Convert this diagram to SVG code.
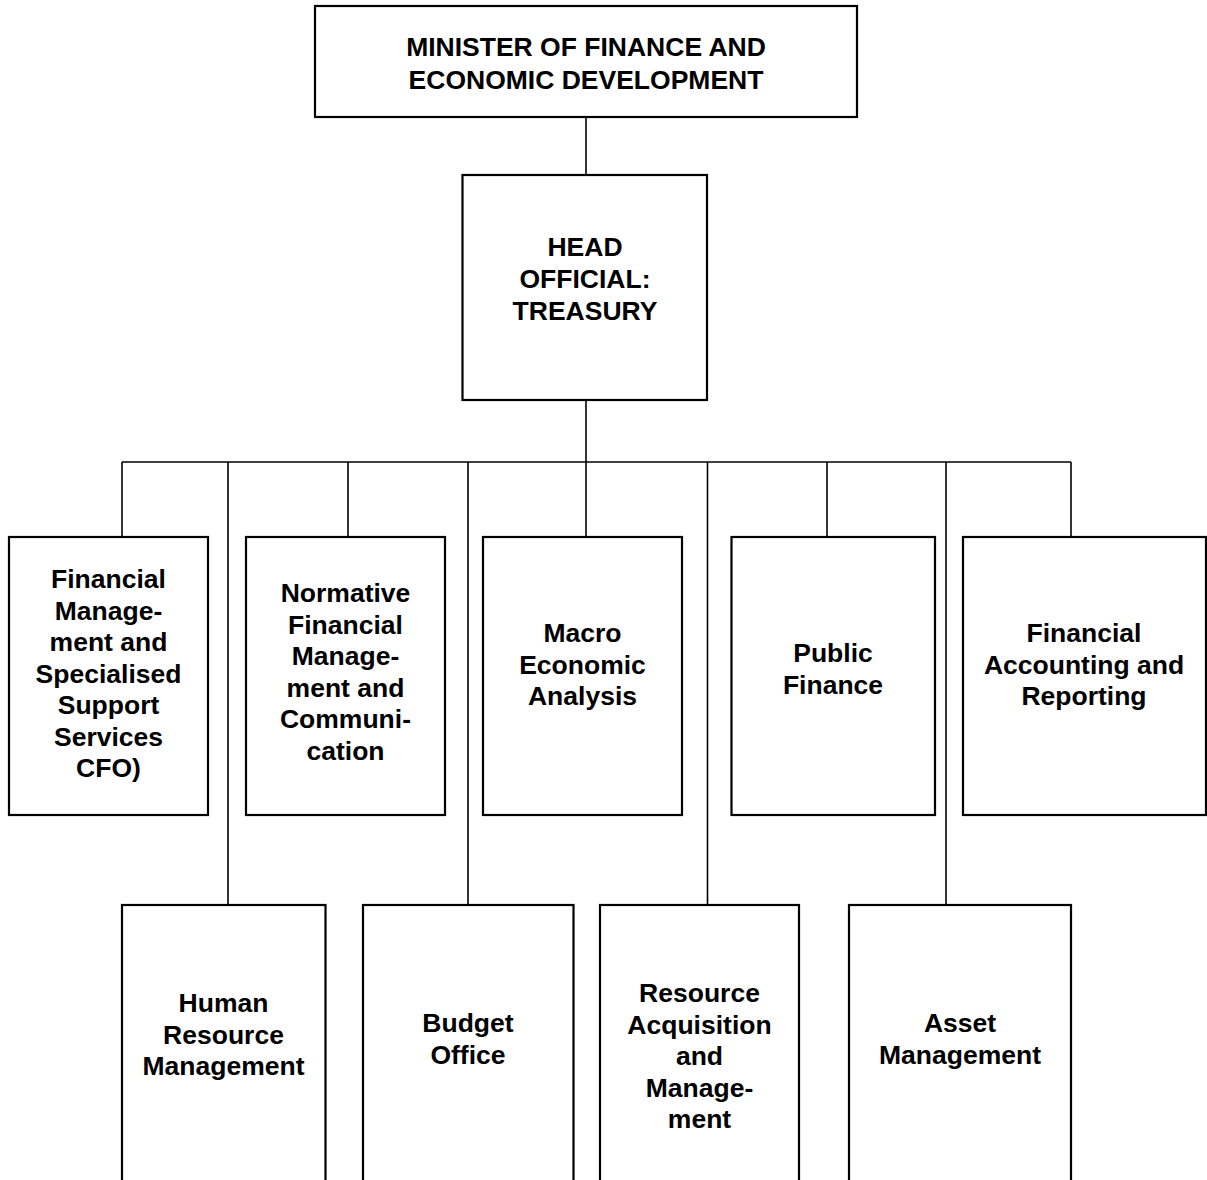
<svg xmlns="http://www.w3.org/2000/svg" width="1207" height="1180" viewBox="0 0 1207 1180">
<style>
.box{fill:#fff;stroke:#000;stroke-width:2.2}
.con{fill:none;stroke:#000;stroke-width:1.6}
text{font-family:"Liberation Sans",Arial,sans-serif;font-weight:bold;font-size:26.5px;text-anchor:middle;fill:#000}
</style>
<rect width="1207" height="1180" fill="#fff"/>
<g id="connectors">
<line class="con" x1="586" y1="117" x2="586" y2="175"/>
<line class="con" x1="586" y1="400" x2="586" y2="537"/>
<line class="con" x1="122" y1="462" x2="1071" y2="462"/>
<line class="con" x1="122" y1="462" x2="122" y2="537"/>
<line class="con" x1="228" y1="462" x2="228" y2="905"/>
<line class="con" x1="348" y1="462" x2="348" y2="537"/>
<line class="con" x1="468" y1="462" x2="468" y2="905"/>
<line class="con" x1="707.5" y1="462" x2="707.5" y2="905"/>
<line class="con" x1="827" y1="462" x2="827" y2="537"/>
<line class="con" x1="946" y1="462" x2="946" y2="905"/>
<line class="con" x1="1071" y1="462" x2="1071" y2="537"/>
</g>
<g id="minister">
<rect class="box" x="315" y="6" width="542" height="111"/>
<text x="586" y="56">MINISTER OF FINANCE AND</text>
<text x="586" y="89">ECONOMIC DEVELOPMENT</text>
</g>
<g id="head">
<rect class="box" x="462.5" y="175" width="244.5" height="225"/>
<text x="585" y="256">HEAD</text>
<text x="585" y="288">OFFICIAL:</text>
<text x="585" y="320">TREASURY</text>
</g>
<g id="cfo">
<rect class="box" x="9" y="537" width="199" height="278"/>
<text x="108.5" y="588">Financial</text>
<text x="108.5" y="619.5">Manage-</text>
<text x="108.5" y="651">ment and</text>
<text x="108.5" y="682.5">Specialised</text>
<text x="108.5" y="714">Support</text>
<text x="108.5" y="745.5">Services</text>
<text x="108.5" y="777">CFO)</text>
</g>
<g id="normative">
<rect class="box" x="246" y="537" width="199" height="278"/>
<text x="345.5" y="602">Normative</text>
<text x="345.5" y="633.5">Financial</text>
<text x="345.5" y="665">Manage-</text>
<text x="345.5" y="696.5">ment and</text>
<text x="345.5" y="728">Communi-</text>
<text x="345.5" y="759.5">cation</text>
</g>
<g id="macro">
<rect class="box" x="483" y="537" width="199" height="278"/>
<text x="582.5" y="642">Macro</text>
<text x="582.5" y="673.5">Economic</text>
<text x="582.5" y="705">Analysis</text>
</g>
<g id="public">
<rect class="box" x="731.5" y="537" width="203.5" height="278"/>
<text x="833" y="662">Public</text>
<text x="833" y="694">Finance</text>
</g>
<g id="accounting">
<rect class="box" x="963" y="537" width="243" height="278"/>
<text x="1084" y="642">Financial</text>
<text x="1084" y="673.5">Accounting and</text>
<text x="1084" y="705">Reporting</text>
</g>
<g id="hr">
<rect class="box" x="122" y="905" width="203.5" height="290"/>
<text x="223.5" y="1012">Human</text>
<text x="223.5" y="1043.5">Resource</text>
<text x="223.5" y="1075">Management</text>
</g>
<g id="budget">
<rect class="box" x="363" y="905" width="210.5" height="290"/>
<text x="468" y="1032">Budget</text>
<text x="468" y="1063.5">Office</text>
</g>
<g id="resource">
<rect class="box" x="600" y="905" width="199" height="290"/>
<text x="699.5" y="1002">Resource</text>
<text x="699.5" y="1033.5">Acquisition</text>
<text x="699.5" y="1065">and</text>
<text x="699.5" y="1096.5">Manage-</text>
<text x="699.5" y="1128">ment</text>
</g>
<g id="asset">
<rect class="box" x="849" y="905" width="222" height="290"/>
<text x="960" y="1032">Asset</text>
<text x="960" y="1063.5">Management</text>
</g>
</svg>
